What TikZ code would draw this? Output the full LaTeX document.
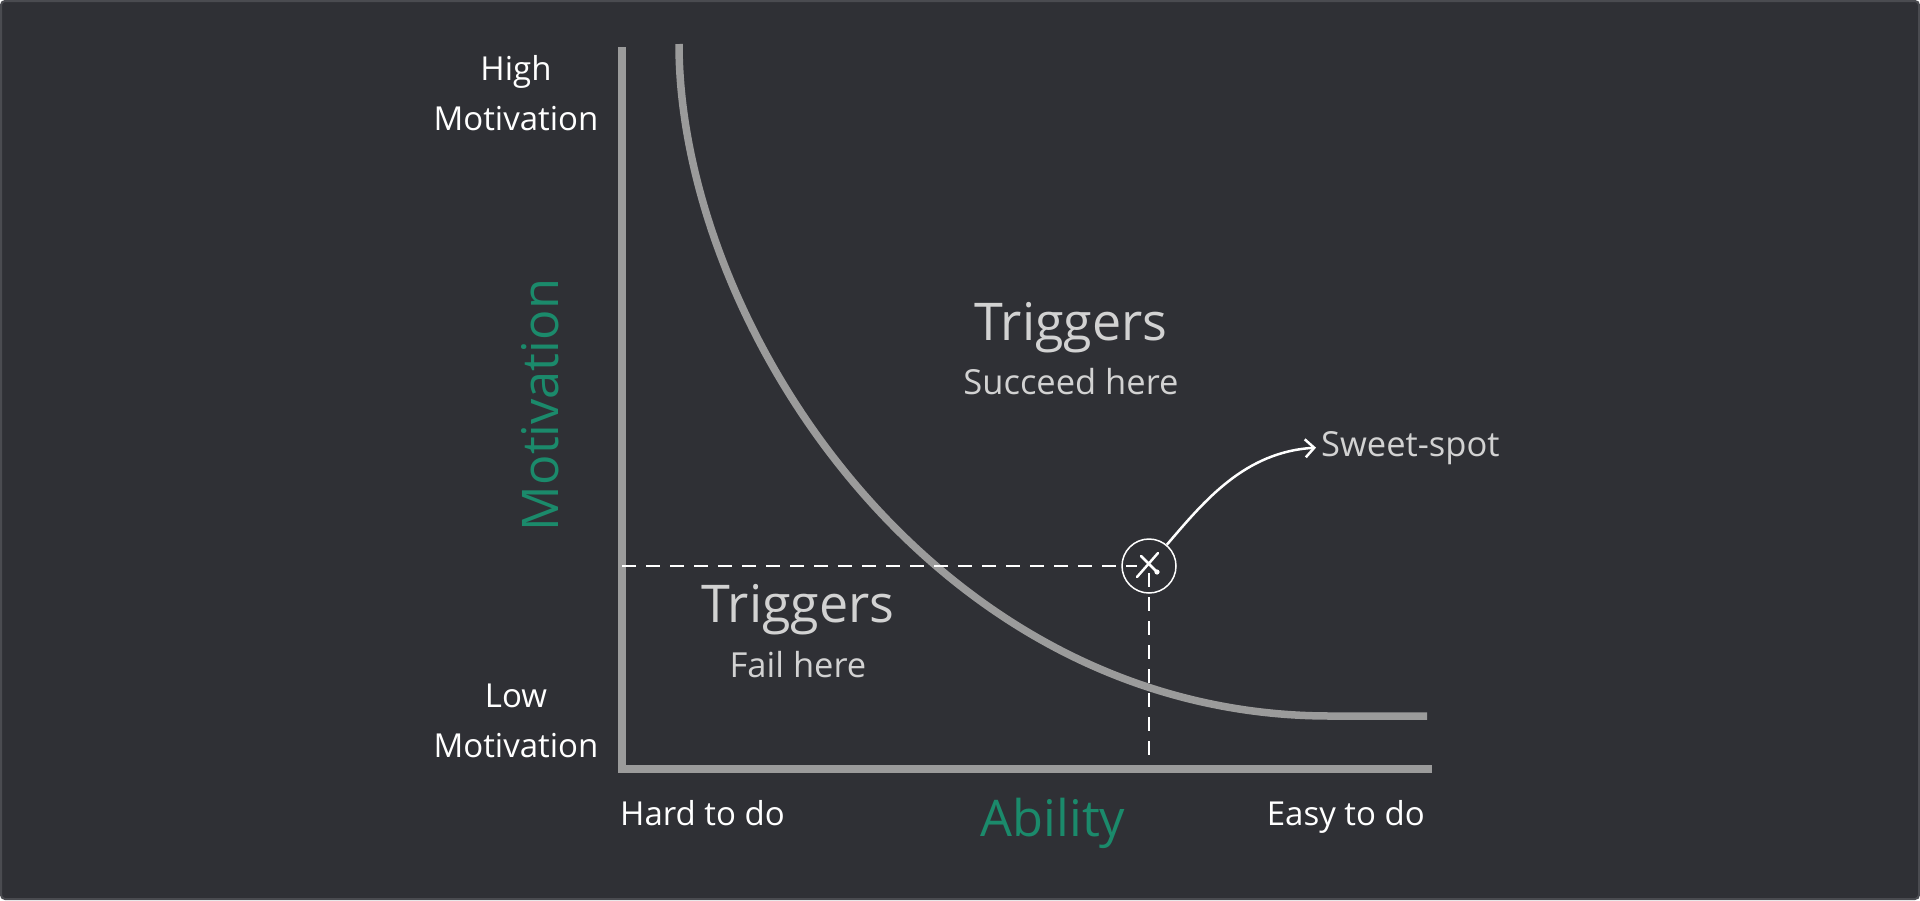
\documentclass[tikz,border=0pt]{standalone}
\usepackage{fontspec}
\setmainfont{Open Sans}
\usetikzlibrary{arrows.meta}
\definecolor{bg}{HTML}{2F3035}
\definecolor{frame}{HTML}{4A4B50}
\definecolor{axisgray}{HTML}{9B9B9B}
\definecolor{green}{HTML}{1B8A6B}
\definecolor{softtext}{HTML}{D2D2D2}
\tikzset{
  axisline/.style={draw=axisgray, line width=8.5pt},
  curveline/.style={draw=axisgray, line width=7.5pt},
  guide/.style={draw=white, line width=1.8pt, dash pattern=on 14pt off 10pt},
  axislabel/.style={text=white, font=\fontsize{33}{40}\selectfont, inner sep=0pt, anchor=base},
  greenlabel/.style={text=green, font=\fontsize{50.5}{60}\selectfont, inner sep=0pt, anchor=base},
  bigtext/.style={text=softtext, font=\fontsize{52}{62}\selectfont, inner sep=0pt, anchor=base},
  smalltext/.style={text=softtext, font=\fontsize{34.5}{41}\selectfont, inner sep=0pt, anchor=base},
}
\begin{document}
\begin{tikzpicture}[x=1pt,y=-1pt]
\useasboundingbox (0,0) rectangle (1920,900);
\fill[bg, draw=frame, line width=2pt, rounded corners=4pt] (1,1) rectangle (1919,899);

% axes
\coordinate (top) at (622,47);
\coordinate (origin) at (622,769);
\coordinate (right) at (1432,769);
\draw[axisline, line cap=butt] (top) -- (origin) -- (right);

% curve
\coordinate (cstart) at (679,44);
\coordinate (cflat) at (1330,716);
\coordinate (cend) at (1427,716);
\draw[curveline] (cstart) .. controls (679,320) and (930,716) .. (cflat) -- (cend);

% sweet spot
\node[circle, draw=white, line width=1.5pt, minimum size=54pt, inner sep=0pt] (spot) at (1149,566) {};
\coordinate (hstart) at (622,566);
\coordinate (hend) at (1137,566);
\coordinate (vstart) at (1149,573);
\coordinate (vend) at (1149,765);
\draw[guide] (hstart) -- (hend);
\draw[guide] (vstart) -- (vend);
\draw[white, line width=2.5pt, line cap=round] (1137,577) -- (1158,553);
\draw[white, line width=2.5pt, line cap=round] (1141,556) -- (1156,571);
\fill[white] (1157,572) circle (2.6pt);

\node[smalltext, anchor=base west] (sweet) at (1321,456) {Sweet-spot};
\draw[white, line width=2.5pt, -{Straight Barb[length=9pt,width=18pt]}] (spot.50) .. controls (1205,500) and (1245,452) .. ([xshift=-5pt]sweet.west);

% labels
\node[axislabel] (high) at (516,80) {High};
\node[axislabel] (highm) at (516,130) {Motivation};
\node[axislabel] (low) at (516,707) {Low};
\node[axislabel] (lowm) at (516,757) {Motivation};
\node[axislabel, anchor=base west] (hard) at (620,825) {Hard to do};
\node[axislabel, anchor=base east] (easy) at (1425,825) {Easy to do};
\node[greenlabel] (ability) at (1053,836) {Ability};
\node[greenlabel, rotate=90] (motiv) at (558,405) {Motivation};

\node[bigtext] (trig1) at (1071,340) {Triggers};
\node[smalltext] (succ) at (1071,394) {Succeed here};
\node[bigtext] (trig2) at (798,622) {Triggers};
\node[smalltext] (fail) at (798,677) {Fail here};
\end{tikzpicture}
\end{document}
